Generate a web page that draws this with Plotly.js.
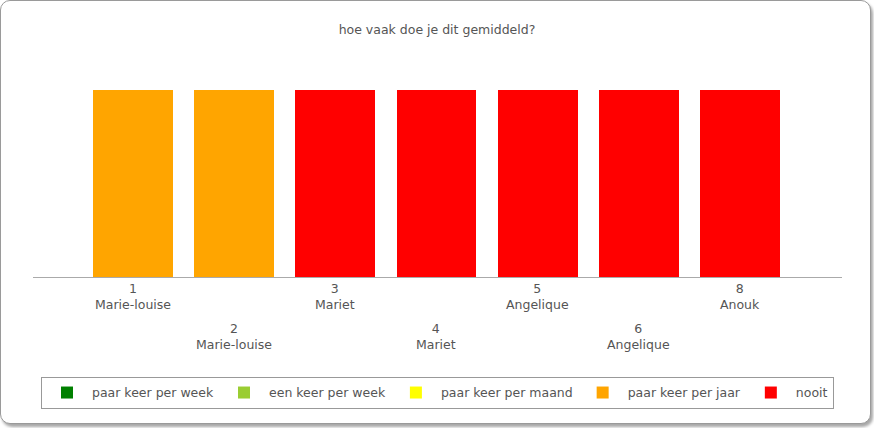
<!DOCTYPE html>
<html>
<head>
<meta charset="utf-8">
<script src="https://cdn.plot.ly/plotly-3.0.1.min.js"></script>
<style>
  html, body { margin: 0; padding: 0; background: #fff; }
  #frame { position: absolute; left: 0; top: 0; width: 869px; height: 422px;
           border: 1px solid #9a9a9a; border-radius: 10px;
           box-shadow: 2px 3px 3px rgba(0,0,0,0.35); background: #fff; }
  #chart { position: absolute; left: 0; top: 0; width: 874px; height: 428px; }
</style>
</head>
<body>
<div id="frame"></div>
<div id="chart"></div>
<script>
// ---- data ----
var categories = ['1', '2', '3', '4', '5', '6', '8'];
var names = ['Marie-louise', 'Marie-louise', 'Mariet', 'Mariet', 'Angelique', 'Angelique', 'Anouk'];
var seriesNames = ['paar keer per week', 'een keer per week', 'paar keer per maand', 'paar keer per jaar', 'nooit'];
var seriesColors = ['#008000', '#9acd32', '#ffff00', '#ffa500', '#ff0000'];
var paarKeerPerWeek   = [0, 0, 0, 0, 0, 0, 0];
var eenKeerPerWeek    = [0, 0, 0, 0, 0, 0, 0];
var paarKeerPerMaand  = [0, 0, 0, 0, 0, 0, 0];
var paarKeerPerJaar   = [1, 1, 0, 0, 0, 0, 0];
var nooit             = [0, 0, 1, 1, 1, 1, 1];
var seriesValues = [paarKeerPerWeek, eenKeerPerWeek, paarKeerPerMaand, paarKeerPerJaar, nooit];

var FONT = 'DejaVu Sans, Verdana, sans-serif';
var TXT = '#555555';

var traces = seriesNames.map(function (n, i) {
  return {
    type: 'bar',
    name: n,
    x: categories,
    y: seriesValues[i],
    marker: { color: seriesColors[i], line: { width: 0 } },
    hoverinfo: 'none'
  };
});

var annotations = categories.map(function (c, i) {
  return {
    x: i, xref: 'x', y: 0, yref: 'y',
    yanchor: 'top', xanchor: 'center',
    yshift: (i % 2 === 0) ? -2 : -42,
    showarrow: false,
    text: c + '<br>' + names[i],
    font: { family: FONT, size: 12.5, color: TXT }
  };
});

var layout = {
  width: 874, height: 428,
  margin: { l: 33, r: 32, t: 53, b: 151 },
  paper_bgcolor: 'rgba(0,0,0,0)',
  plot_bgcolor: 'rgba(0,0,0,0)',
  barmode: 'stack',
  bargap: 0.21,
  title: { text: 'hoe vaak doe je dit gemiddeld?', x: 0.5, xanchor: 'center',
           y: 1 - 30 / 428, yanchor: 'middle', yref: 'container',
           font: { family: FONT, size: 12.5, color: TXT } },
  xaxis: { type: 'category', range: [-0.99, 7.01], showline: true, linecolor: '#aaaaaa',
           linewidth: 1, showgrid: false, zeroline: false, ticks: '', showticklabels: false,
           fixedrange: true },
  yaxis: { range: [0, 1.2], visible: false, fixedrange: true },
  showlegend: true,
  legend: { orientation: 'h', x: 0.5, xanchor: 'center', y: -0.446, yanchor: 'top',
            traceorder: 'normal', bordercolor: '#999999', borderwidth: 1,
            itemwidth: 40,
            font: { family: FONT, size: 12.5, color: TXT } },
  annotations: annotations
};

Plotly.newPlot('chart', traces, layout, { displayModeBar: false, staticPlot: true });
</script>
</body>
</html>
